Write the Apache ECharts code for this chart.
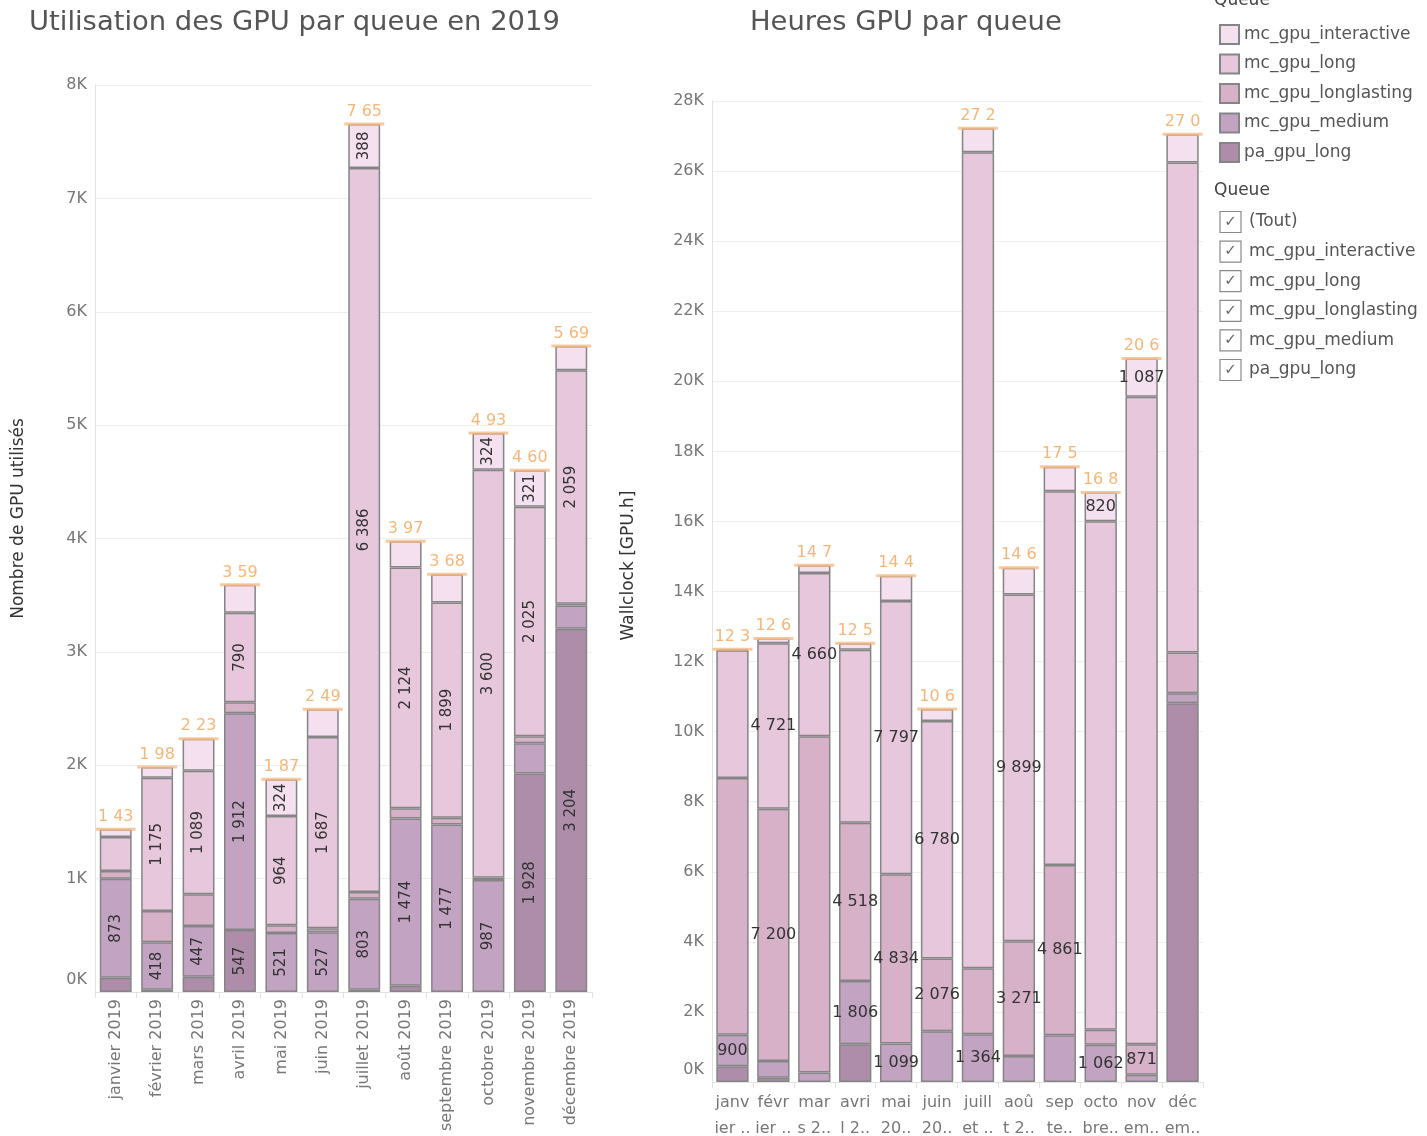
<!DOCTYPE html>
<html>
<head>
<meta charset="utf-8">
<script src="https://cdn.jsdelivr.net/npm/echarts@6/dist/echarts.min.js"></script>
<style>
  html, body { margin: 0; padding: 0; background: #fff; }
  #chart { width: 1427px; height: 1136px; }
</style>
</head>
<body>
<div id="chart"></div>
<script>
const months = ['janvier 2019', 'février 2019', 'mars 2019', 'avril 2019', 'mai 2019', 'juin 2019',
  'juillet 2019', 'août 2019', 'septembre 2019', 'octobre 2019', 'novembre 2019', 'décembre 2019']
// right chart ticks are wrapped + truncated in the original
const monthsShort = ['janv\nier ..', 'févr\nier ..', 'mar\ns 2..', 'avri\nl 2..', 'mai\n20..', 'juin\n20..',
  'juill\net ..', 'aoû\nt 2..', 'sep\nte..', 'octo\nbre..', 'nov\nem..', 'déc\nem..']
const queues = ['mc_gpu_interactive', 'mc_gpu_long', 'mc_gpu_longlasting', 'mc_gpu_medium', 'pa_gpu_long']
const filterItems = ['(Tout)', 'mc_gpu_interactive', 'mc_gpu_long', 'mc_gpu_longlasting', 'mc_gpu_medium', 'pa_gpu_long']

// number of GPUs used
const gpuInteractive = [67, 95, 283, 245, 324, 245, 388, 231, 249, 324, 321, 215]
const gpuLong = [300, 1175, 1089, 790, 964, 1687, 6386, 2124, 1899, 3600, 2025, 2059]
const gpuLonglasting = [70, 277, 280, 97, 67, 35, 60, 90, 60, 20, 62, 15]
const gpuMedium = [873, 418, 447, 1912, 521, 527, 803, 1474, 1477, 987, 265, 205]
const gpuPa = [125, 20, 135, 547, 0, 0, 20, 56, 0, 0, 1928, 3204]

// GPU hours
const hInteractive = [30, 140, 220, 190, 723, 340, 686, 763, 697, 820, 1087, 800]
const hLong = [3645, 4721, 4660, 4933, 7797, 6780, 23286, 9899, 10666, 14514, 18480, 13991]
const hLonglasting = [7325, 7200, 9600, 4518, 4834, 2076, 1886, 3271, 4861, 429, 871, 1160]
const hMedium = [900, 480, 270, 1806, 1099, 1450, 1364, 743, 1334, 1062, 210, 286]
const hPa = [450, 120, 0, 1077, 0, 0, 0, 0, 0, 0, 0, 10811]

// months whose segment label is visible on the right chart
const hLabelInteractive = [9, 10]
const hLabelLong = [1, 2, 4, 5, 7]
const hLabelLonglasting = [1, 3, 4, 5, 7, 8, 10]
const hLabelMedium = [0, 3, 4, 6, 9]
const hLabelPa = []

const colors = {
  mc_gpu_interactive: '#f4e0ef',
  mc_gpu_long: '#e7c7dc',
  mc_gpu_longlasting: '#d6b1c8',
  mc_gpu_medium: '#c3a3c2',
  pa_gpu_long: '#ad8daa'
}
const font = 'DejaVu Sans'

const fr = (v) => Math.round(v).toString().replace(/\B(?=(\d{3})+(?!\d))/g, ' ')

const chart = echarts.init(document.getElementById('chart'))

const leftStack = [
  ['pa_gpu_long', gpuPa],
  ['mc_gpu_medium', gpuMedium],
  ['mc_gpu_longlasting', gpuLonglasting],
  ['mc_gpu_long', gpuLong],
  ['mc_gpu_interactive', gpuInteractive]
]
const rightStack = [
  ['pa_gpu_long', hPa, hLabelPa],
  ['mc_gpu_medium', hMedium, hLabelMedium],
  ['mc_gpu_longlasting', hLonglasting, hLabelLonglasting],
  ['mc_gpu_long', hLong, hLabelLong],
  ['mc_gpu_interactive', hInteractive, hLabelInteractive]
]

const barStyle = (name) => ({ color: colors[name], borderColor: '#858585', borderWidth: 1.5 })

const series = []
leftStack.forEach(([name, values]) => {
  series.push({
    name,
    type: 'bar',
    stack: 'gpu',
    xAxisIndex: 0,
    yAxisIndex: 0,
    barWidth: '77%',
    itemStyle: barStyle(name),
    data: values.map((v) => ({
      value: v === 0 ? '-' : v,
      label: { show: v > 310 }
    })),
    label: {
      position: 'inside',
      rotate: 90,
      fontSize: 15,
      fontFamily: font,
      color: '#333',
      formatter: (p) => fr(p.value)
    }
  })
})
rightStack.forEach(([name, values, shown]) => {
  series.push({
    name,
    type: 'bar',
    stack: 'hours',
    xAxisIndex: 1,
    yAxisIndex: 1,
    barWidth: '79%',
    itemStyle: barStyle(name),
    data: values.map((v, i) => ({
      value: v === 0 ? '-' : v,
      label: { show: shown.includes(i) }
    })),
    label: {
      position: 'inside',
      fontSize: 16,
      fontFamily: font,
      color: '#333',
      formatter: (p) => fr(p.value)
    }
  })
})

const gpuTotals = months.map((m, i) => leftStack.reduce((s, [, v]) => s + v[i], 0))
const hTotals = months.map((m, i) => rightStack.reduce((s, [, v]) => s + v[i], 0))

const totalSeries = (data, idx) => ({
  name: 'total',
  type: 'scatter',
  xAxisIndex: idx,
  yAxisIndex: idx,
  symbol: 'rect',
  symbolSize: [40, 3],
  z: 5,
  itemStyle: { color: '#f8bb85' },
  label: {
    show: true,
    position: 'top',
    distance: 3,
    fontSize: 16,
    fontFamily: font,
    color: '#f5a455',
    width: 40,
    overflow: 'truncate',
    ellipsis: '',
    formatter: (p) => fr(p.value)
  },
  data
})
series.push(totalSeries(gpuTotals, 0))
series.push(totalSeries(hTotals, 1))

const yLabel = (v) => (v === 0 ? '{z|0K}' : v / 1000 + 'K')
const yAxisBase = {
  type: 'value',
  min: 0,
  axisLine: { show: true, lineStyle: { color: '#e2e2e2' } },
  axisTick: { show: false },
  splitLine: { lineStyle: { color: '#efefef' } },
  nameLocation: 'middle',
  axisLabel: {
    fontSize: 16,
    fontFamily: font,
    color: '#777',
    margin: 8,
    formatter: yLabel,
    rich: { z: { fontSize: 16, fontFamily: font, color: '#777', padding: [0, 0, 25, 0] } }
  }
}

const graphic = [
  { type: 'text', left: 1214, top: -8, style: { text: 'Queue', fontSize: 17, fontFamily: font, fill: '#444' } },
  { type: 'text', left: 1214, top: 182, style: { text: 'Queue', fontSize: 17, fontFamily: font, fill: '#444' } }
]
filterItems.forEach((item, i) => {
  const cy = 222 + i * 29.6
  graphic.push({
    type: 'rect',
    shape: { x: 1220, y: cy - 10.5, width: 21, height: 21 },
    style: { fill: '#fff', stroke: '#8a8a8a', lineWidth: 1.2 }
  })
  graphic.push({
    type: 'text',
    x: 1230.5,
    y: cy,
    style: { text: '✓', fontSize: 15, fontFamily: font, fill: '#666', align: 'center', verticalAlign: 'middle' }
  })
  graphic.push({
    type: 'text',
    x: 1249,
    y: cy,
    style: { text: item, fontSize: 17, fontFamily: font, fill: '#555', verticalAlign: 'middle' }
  })
})

chart.setOption({
  backgroundColor: '#fff',
  animation: false,
  title: [
    { text: 'Utilisation des GPU par queue en 2019', left: 24, top: 4,
      textStyle: { fontSize: 27.4, fontWeight: 'normal', fontFamily: font, color: '#555' } },
    { text: 'Heures GPU par queue', left: 745, top: 4,
      textStyle: { fontSize: 27.4, fontWeight: 'normal', fontFamily: font, color: '#555' } }
  ],
  legend: {
    orient: 'vertical',
    left: 1214,
    top: 19,
    itemWidth: 19,
    itemHeight: 19,
    itemGap: 8.5,
    icon: 'rect',
    selectedMode: false,
    data: queues,
    textStyle: { fontSize: 17, fontFamily: font, color: '#555' }
  },
  grid: [
    { left: 95, right: 835, top: 85, bottom: 144, outerBoundsMode: 'none' },
    { left: 712, right: 224, top: 101, bottom: 54, outerBoundsMode: 'none' }
  ],
  xAxis: [
    {
      type: 'category',
      gridIndex: 0,
      data: months,
      axisLine: { lineStyle: { color: '#e2e2e2' } },
      axisTick: { show: true, length: 6, lineStyle: { color: '#e2e2e2' } },
      axisLabel: { rotate: 90, fontSize: 16, fontFamily: font, color: '#777', margin: 7 }
    },
    {
      type: 'category',
      gridIndex: 1,
      data: monthsShort,
      axisLine: { lineStyle: { color: '#e2e2e2' } },
      axisTick: { show: true, length: 6, lineStyle: { color: '#e2e2e2' } },
      axisLabel: { fontSize: 16, fontFamily: font, color: '#777', margin: 8, lineHeight: 26, interval: 0 }
    }
  ],
  yAxis: [
    Object.assign({}, yAxisBase, {
      gridIndex: 0, max: 8000, interval: 1000, name: 'Nombre de GPU utilisés', nameGap: 68,
      nameTextStyle: { fontSize: 17, fontFamily: font, color: '#333', padding: [0, 0, 0, 40] }
    }),
    Object.assign({}, yAxisBase, {
      gridIndex: 1, max: 28000, interval: 2000, name: 'Wallclock [GPU.h]', nameGap: 75,
      nameTextStyle: { fontSize: 17, fontFamily: font, color: '#333', padding: [0, 0, 0, 52] }
    })
  ],
  graphic,
  series
})
</script>
</body>
</html>
